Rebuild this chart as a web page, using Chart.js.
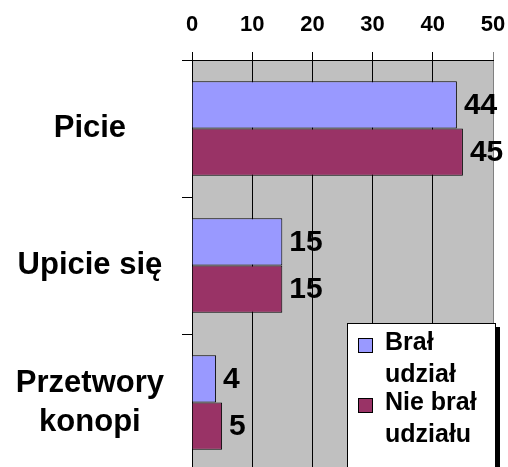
<!DOCTYPE html>
<html>
<head>
<meta charset="utf-8">
<script src="https://cdn.jsdelivr.net/npm/chart.js@4"></script>
<style>
  html, body { margin: 0; padding: 0; overflow: hidden; background: #fff; }
  canvas { display: block; }
</style>
</head>
<body>
<canvas id="chart" width="508" height="471"></canvas>
<script>
// --- dane ---
const categories = ["Picie", "Upicie się", ["Przetwory", "konopi"]];
const seriesNames = ["Brał udział", "Nie brał udziału"];
const bralUdzial = [44, 15, 4];
const nieBralUdzialu = [45, 15, 5];
const xTicks = [0, 10, 20, 30, 40, 50];

const colBlue = "#9999FF";
const colMaroon = "#993366";
const fontFamily = "'Liberation Sans', Arial, sans-serif";

// szare tło obszaru wykresu
const plotBg = {
  id: "plotBg",
  beforeDraw(chart) {
    const { ctx, chartArea: a } = chart;
    ctx.save();
    ctx.fillStyle = "#C0C0C0";
    ctx.fillRect(a.left, a.top, a.right - a.left, a.bottom - a.top);
    ctx.restore();
  }
};

// etykiety wartości na końcach słupków
const valueLabels = {
  id: "valueLabels",
  afterDatasetsDraw(chart) {
    const ctx = chart.ctx;
    ctx.save();
    ctx.font = "bold 30px " + fontFamily;
    ctx.fillStyle = "#000";
    ctx.textAlign = "left";
    ctx.textBaseline = "middle";
    chart.data.datasets.forEach((ds, i) => {
      chart.getDatasetMeta(i).data.forEach((bar, j) => {
        ctx.fillText(String(ds.data[j]), bar.x + 7, bar.y + 1);
      });
    });
    ctx.restore();
  }
};

// legenda w prawym dolnym rogu (z cieniem)
const boxLegend = {
  id: "boxLegend",
  afterDraw(chart) {
    const { ctx, chartArea: a } = chart;
    const left = a.right - 146, top = 323, right = a.right + 3;
    const bottom = chart.height + 5;
    ctx.save();
    ctx.fillStyle = "#000";
    ctx.fillRect(right, top + 4, 4, bottom - top);
    ctx.fillStyle = "#fff";
    ctx.fillRect(left, top, right - left, bottom - top);
    ctx.strokeStyle = "#000";
    ctx.lineWidth = 1;
    ctx.strokeRect(left + 0.5, top + 0.5, right - left - 1, bottom - top);

    const items = [
      { color: colBlue, lines: ["Brał", "udział"] },
      { color: colMaroon, lines: ["Nie brał", "udziału"] }
    ];
    ctx.font = "bold 25px " + fontFamily;
    ctx.textAlign = "left";
    ctx.textBaseline = "alphabetic";
    items.forEach((it, i) => {
      const y0 = top + 27 + i * 60;
      ctx.fillStyle = it.color;
      ctx.fillRect(left + 11, y0 - 12, 15, 15);
      ctx.strokeRect(left + 11.5, y0 - 11.5, 14, 14);
      ctx.fillStyle = "#000";
      it.lines.forEach((ln, k) => ctx.fillText(ln, left + 38, y0 + k * 32));
    });
    ctx.restore();
  }
};

const chart = new Chart(document.getElementById("chart"), {
  type: "bar",
  data: {
    labels: categories,
    datasets: [
      {
        label: seriesNames[0],
        data: bralUdzial,
        backgroundColor: colBlue,
        borderColor: "#000",
        borderWidth: 1
      },
      {
        label: seriesNames[1],
        data: nieBralUdzialu,
        backgroundColor: colMaroon,
        borderColor: "#000",
        borderWidth: 1
      }
    ]
  },
  options: {
    indexAxis: "y",
    responsive: false,
    animation: false,
    layout: { padding: { left: 0, right: 15, top: 0, bottom: 0 } },
    datasets: { bar: { categoryPercentage: 0.69, barPercentage: 1.0 } },
    plugins: { legend: { display: false }, tooltip: { enabled: false } },
    scales: {
      x: {
        position: "top",
        min: xTicks[0],
        max: xTicks[xTicks.length - 1],
        afterBuildTicks: (s) => { s.ticks = xTicks.map(v => ({ value: v })); },
        afterFit: (s) => { s.height = 60; s.paddingLeft = 0; s.paddingRight = 0; },
        grid: {
          color: (c) => (c.tick && c.tick.value === 50 ? "#808080" : "#000"),
          lineWidth: 1,
          tickLength: 8
        },
        border: { color: "#000" },
        ticks: {
          padding: 14,
          color: "#000",
          font: { family: fontFamily, size: 22, weight: "bold" }
        }
      },
      y: {
        afterFit: (s) => { s.width = 192; s.paddingTop = 0; s.paddingBottom = 0; },
        grid: {
          drawOnChartArea: false,
          color: "#000",
          tickLength: 10
        },
        border: { display: false },
        ticks: {
          crossAlign: "center",
          padding: 18,
          color: "#000",
          font: { family: fontFamily, size: 31, weight: "bold", lineHeight: 1.26 }
        }
      }
    }
  },
  plugins: [plotBg, valueLabels, boxLegend]
});
</script>
</body>
</html>
